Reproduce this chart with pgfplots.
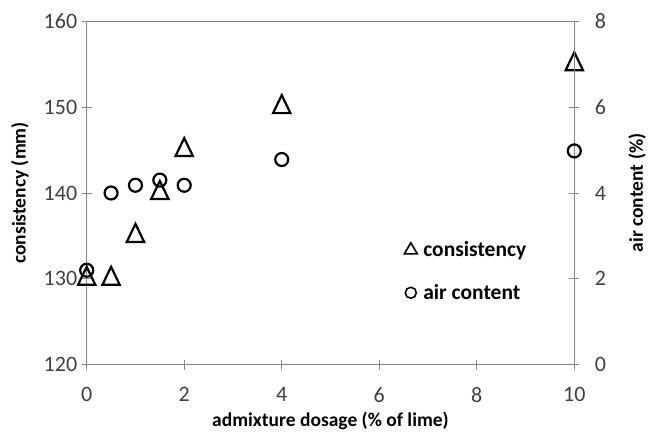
\documentclass[border=0pt]{standalone}
\usepackage{fontspec}
\setmainfont{Carlito}
\usepackage{pgfplots}
\pgfplotsset{compat=1.18}
\definecolor{axgray}{HTML}{868686}
\definecolor{txtgray}{HTML}{404040}

\begin{document}
\begin{tikzpicture}
\pgfplotsset{
  every axis/.append style={
    width=487.6pt, height=343.4pt, scale only axis,
    xmin=0, xmax=10,
    font=\fontsize{22}{26}\selectfont,
    /pgf/number format/assume math mode=true,
    axis line style={axgray, line width=0.8pt},
    major tick style={axgray, line width=0.8pt},
    major tick length=10pt,
    tick align=center,
    ticklabel style={text=txtgray, font=\fontsize{22}{26}\selectfont},
  }
}
\begin{axis}[
  name=ax,
  ymin=120, ymax=160, ytick={120,130,...,160},
  xtick={0,2,...,10},
  xtick pos=bottom, ytick pos=left,
  xlabel={admixture dosage (\% of lime)},
  ylabel={consistency (mm)},
  xticklabel style={yshift=-14pt},
  yticklabel style={xshift=-1pt},
  every axis x label/.style={at={(axis description cs:0.5,-0.164)}, anchor=center,
    font=\fontsize{19.5}{23}\selectfont\bfseries},
  every axis y label/.style={at={(axis description cs:-0.137,0.5)}, rotate=90, anchor=center,
    font=\fontsize{19.5}{23}\selectfont\bfseries},
]
\addplot[only marks, mark=triangle, mark size=10pt, line width=2.2pt,
  mark options={yscale=1.2}]
  coordinates {(0,130) (0.5,130) (1,135) (1.5,140) (2,145) (4,150) (10,155)};
\end{axis}

\begin{axis}[
  ymin=0, ymax=8, ytick={0,2,...,8},
  axis y line*=right, axis x line=none,
  ylabel={air content (\%)},
  yticklabel style={xshift=12pt},
  every axis y label/.style={at={(axis description cs:1.129,0.5)}, rotate=90, anchor=center,
    font=\fontsize{19.5}{23}\selectfont\bfseries},
  legend style={draw=none, fill=none, at={(0.651,0.364)}, anchor=north west,
    font=\fontsize{21.5}{25}\selectfont\bfseries, row sep=22pt,
    inner sep=0pt, /tikz/every odd column/.append style={column sep=4pt}},
  legend cell align=left,
]
\addlegendimage{only marks, mark=triangle, mark size=7.5pt, line width=1.6pt}
\addlegendentry{consistency}
\addlegendimage{only marks, mark=o, mark size=5.5pt, line width=1.6pt}
\addlegendentry{air content}
\addplot[only marks, mark=o, mark size=6.5pt, line width=2.2pt, forget plot]
  coordinates {(0,2.2) (0.5,4.0) (1,4.18) (1.5,4.3) (2,4.18) (4,4.78) (10,4.98)};
\end{axis}

\pgfresetboundingbox
\path[use as bounding box] ([xshift=-86.7pt, yshift=-72.3pt]ax.south west)
  rectangle ([xshift=73.7pt, yshift=21.3pt]ax.north east);
\end{tikzpicture}
\end{document}
